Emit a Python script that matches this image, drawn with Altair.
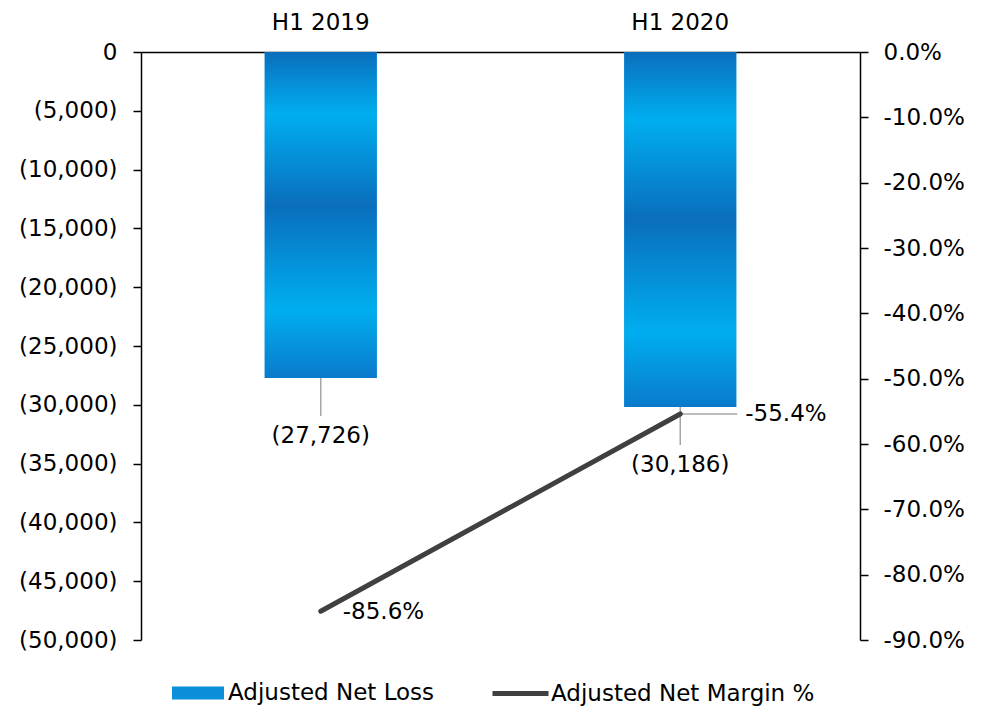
import altair as alt
import pandas as pd

categories = ["H1 2019", "H1 2020"]
net_loss = [-27726, -30186]
net_margin = [-0.856, -0.554]
left_ticks = [-50000, -45000, -40000, -35000, -30000, -25000, -20000, -15000, -10000, -5000, 0]
right_ticks = [-0.9, -0.8, -0.7, -0.6, -0.5, -0.4, -0.3, -0.2, -0.1, 0.0]
loss_name = "Adjusted Net Loss"
margin_name = "Adjusted Net Margin %"

df = pd.DataFrame({
    "cat": categories,
    "loss": net_loss,
    "margin": net_margin,
    "loss_series": [loss_name] * len(categories),
    "margin_series": [margin_name] * len(categories),
})

FONT = "DejaVu Sans"
FS = 23
DARK = "#0A6EBD"
LIGHT = "#00AEEF"
LINE = "#404040"
GRAY = "#A6A6A6"

grad = alt.LinearGradient(
    gradient="linear",
    stops=[
        alt.GradientStop(offset=0, color=DARK),
        alt.GradientStop(offset=0.19, color=LIGHT),
        alt.GradientStop(offset=0.47, color=DARK),
        alt.GradientStop(offset=0.79, color=LIGHT),
        alt.GradientStop(offset=1, color="#0A7ACB"),
    ],
    x1=0, x2=0, y1=0, y2=1,
)

base = alt.Chart(df)

x_axis = alt.Axis(orient="top", title=None, labelAngle=0, ticks=False,
                  domain=True, domainColor="black", domainWidth=1.5,
                  labelFontSize=FS, labelFont=FONT, labelColor="black",
                  labelPadding=18)
x_scale = alt.Scale(domain=categories, paddingInner=0, paddingOuter=0)
x_enc = alt.X("cat:N", scale=x_scale, axis=x_axis)

left_scale = alt.Scale(domain=[-50000, 0], nice=False, zero=False)
left_axis = alt.Axis(orient="left", title=None, values=left_ticks, grid=False,
                     domainColor="black", domainWidth=1.5, tickColor="black",
                     tickWidth=1.5, tickSize=8, labelFontSize=FS, labelFont=FONT,
                     labelColor="black", labelPadding=16,
                     labelExpr="datum.value == 0 ? '0' : '(' + format(abs(datum.value), ',') + ')'")
right_scale = alt.Scale(domain=[-0.9, 0], nice=False, zero=False)
right_axis = alt.Axis(orient="right", title=None, values=right_ticks, grid=False,
                      domainColor="black", domainWidth=1.5, tickColor="black",
                      tickWidth=1.5, tickSize=8, labelFontSize=FS, labelFont=FONT,
                      labelColor="black", labelPadding=15,
                      labelExpr="(datum.value < -0.0001 ? '-' : '') + format(abs(datum.value), '.1%')")

y_left_noaxis = alt.Y("loss:Q", scale=left_scale, axis=None)
y_right_noaxis = alt.Y("margin:Q", scale=right_scale, axis=None)

legend_loss = alt.Legend(
    title=None, orient="none", legendX=31, legendY=615, padding=0,
    symbolType="M-1,-0.25H1V0.25H-1Z", symbolSize=2704, symbolStrokeWidth=0,
    symbolFillColor="#0A8FD8", symbolOpacity=1, labelLimit=500,
    labelFontSize=FS, labelFont=FONT, labelColor="black", labelOffset=4,
)
legend_margin = alt.Legend(
    title=None, orient="none", legendX=349, legendY=611, padding=0,
    symbolType="stroke", symbolSize=3136, symbolStrokeWidth=5, labelLimit=500,
    labelFontSize=FS, labelFont=FONT, labelColor="black", labelOffset=0,
)

bars_hidden = base.mark_bar(size=112).encode(
    x=x_enc,
    y=alt.Y("loss:Q", scale=left_scale, axis=left_axis),
    fill=alt.Fill("loss_series:N", scale=alt.Scale(domain=[loss_name], range=["#0A8FD8"]),
                  legend=legend_loss),
)

bars = base.mark_bar(size=112, color=grad).encode(x=x_enc, y=y_left_noaxis)

bar_leaders = base.mark_rule(color=GRAY, strokeWidth=1.5, y2Offset=38).encode(
    x=x_enc, y=y_left_noaxis, y2="loss:Q",
)

bar_text = base.transform_calculate(
    lbl="'(' + format(abs(datum.loss), ',') + ')'"
).mark_text(font=FONT, fontSize=FS, color="black", baseline="middle", dy=58).encode(
    x=x_enc, y=y_left_noaxis, text="lbl:N",
)

line = base.mark_line(strokeWidth=5, strokeCap="round").encode(
    x=x_enc,
    y=alt.Y("margin:Q", scale=right_scale, axis=right_axis),
    stroke=alt.Stroke("margin_series:N", scale=alt.Scale(domain=[margin_name], range=[LINE]),
                      legend=legend_margin),
)

margin_lbl = "(datum.margin < 0 ? '-' : '') + format(abs(datum.margin), '.1%')"

margin_leader = base.transform_filter(
    alt.datum.cat == categories[1]
).mark_rule(color=GRAY, strokeWidth=1.5, x2Offset=57).encode(
    x=x_enc, x2="cat:N", y=y_right_noaxis,
)

margin_text_a = base.transform_filter(
    alt.datum.cat == categories[0]
).transform_calculate(lbl=margin_lbl).mark_text(
    font=FONT, fontSize=FS, color="black", align="left", baseline="middle", dx=22, dy=1
).encode(x=x_enc, y=y_right_noaxis, text="lbl:N")

margin_text_b = base.transform_filter(
    alt.datum.cat == categories[1]
).transform_calculate(lbl=margin_lbl).mark_text(
    font=FONT, fontSize=FS, color="black", align="left", baseline="middle", dx=65, dy=0
).encode(x=x_enc, y=y_right_noaxis, text="lbl:N")

chart = alt.layer(
    bars_hidden, bars, bar_leaders, bar_text, margin_leader, line, margin_text_a, margin_text_b
).resolve_scale(
    y="independent", fill="independent", stroke="independent"
).properties(
    width=719, height=588,
    padding={"left": 141, "top": 52, "right": 128, "bottom": 69},
    autosize=alt.AutoSizeParams(type="none"),
    background="white",
).configure_view(stroke=None)

chart.save("out.html", embed_options={"renderer": "svg", "actions": False})
